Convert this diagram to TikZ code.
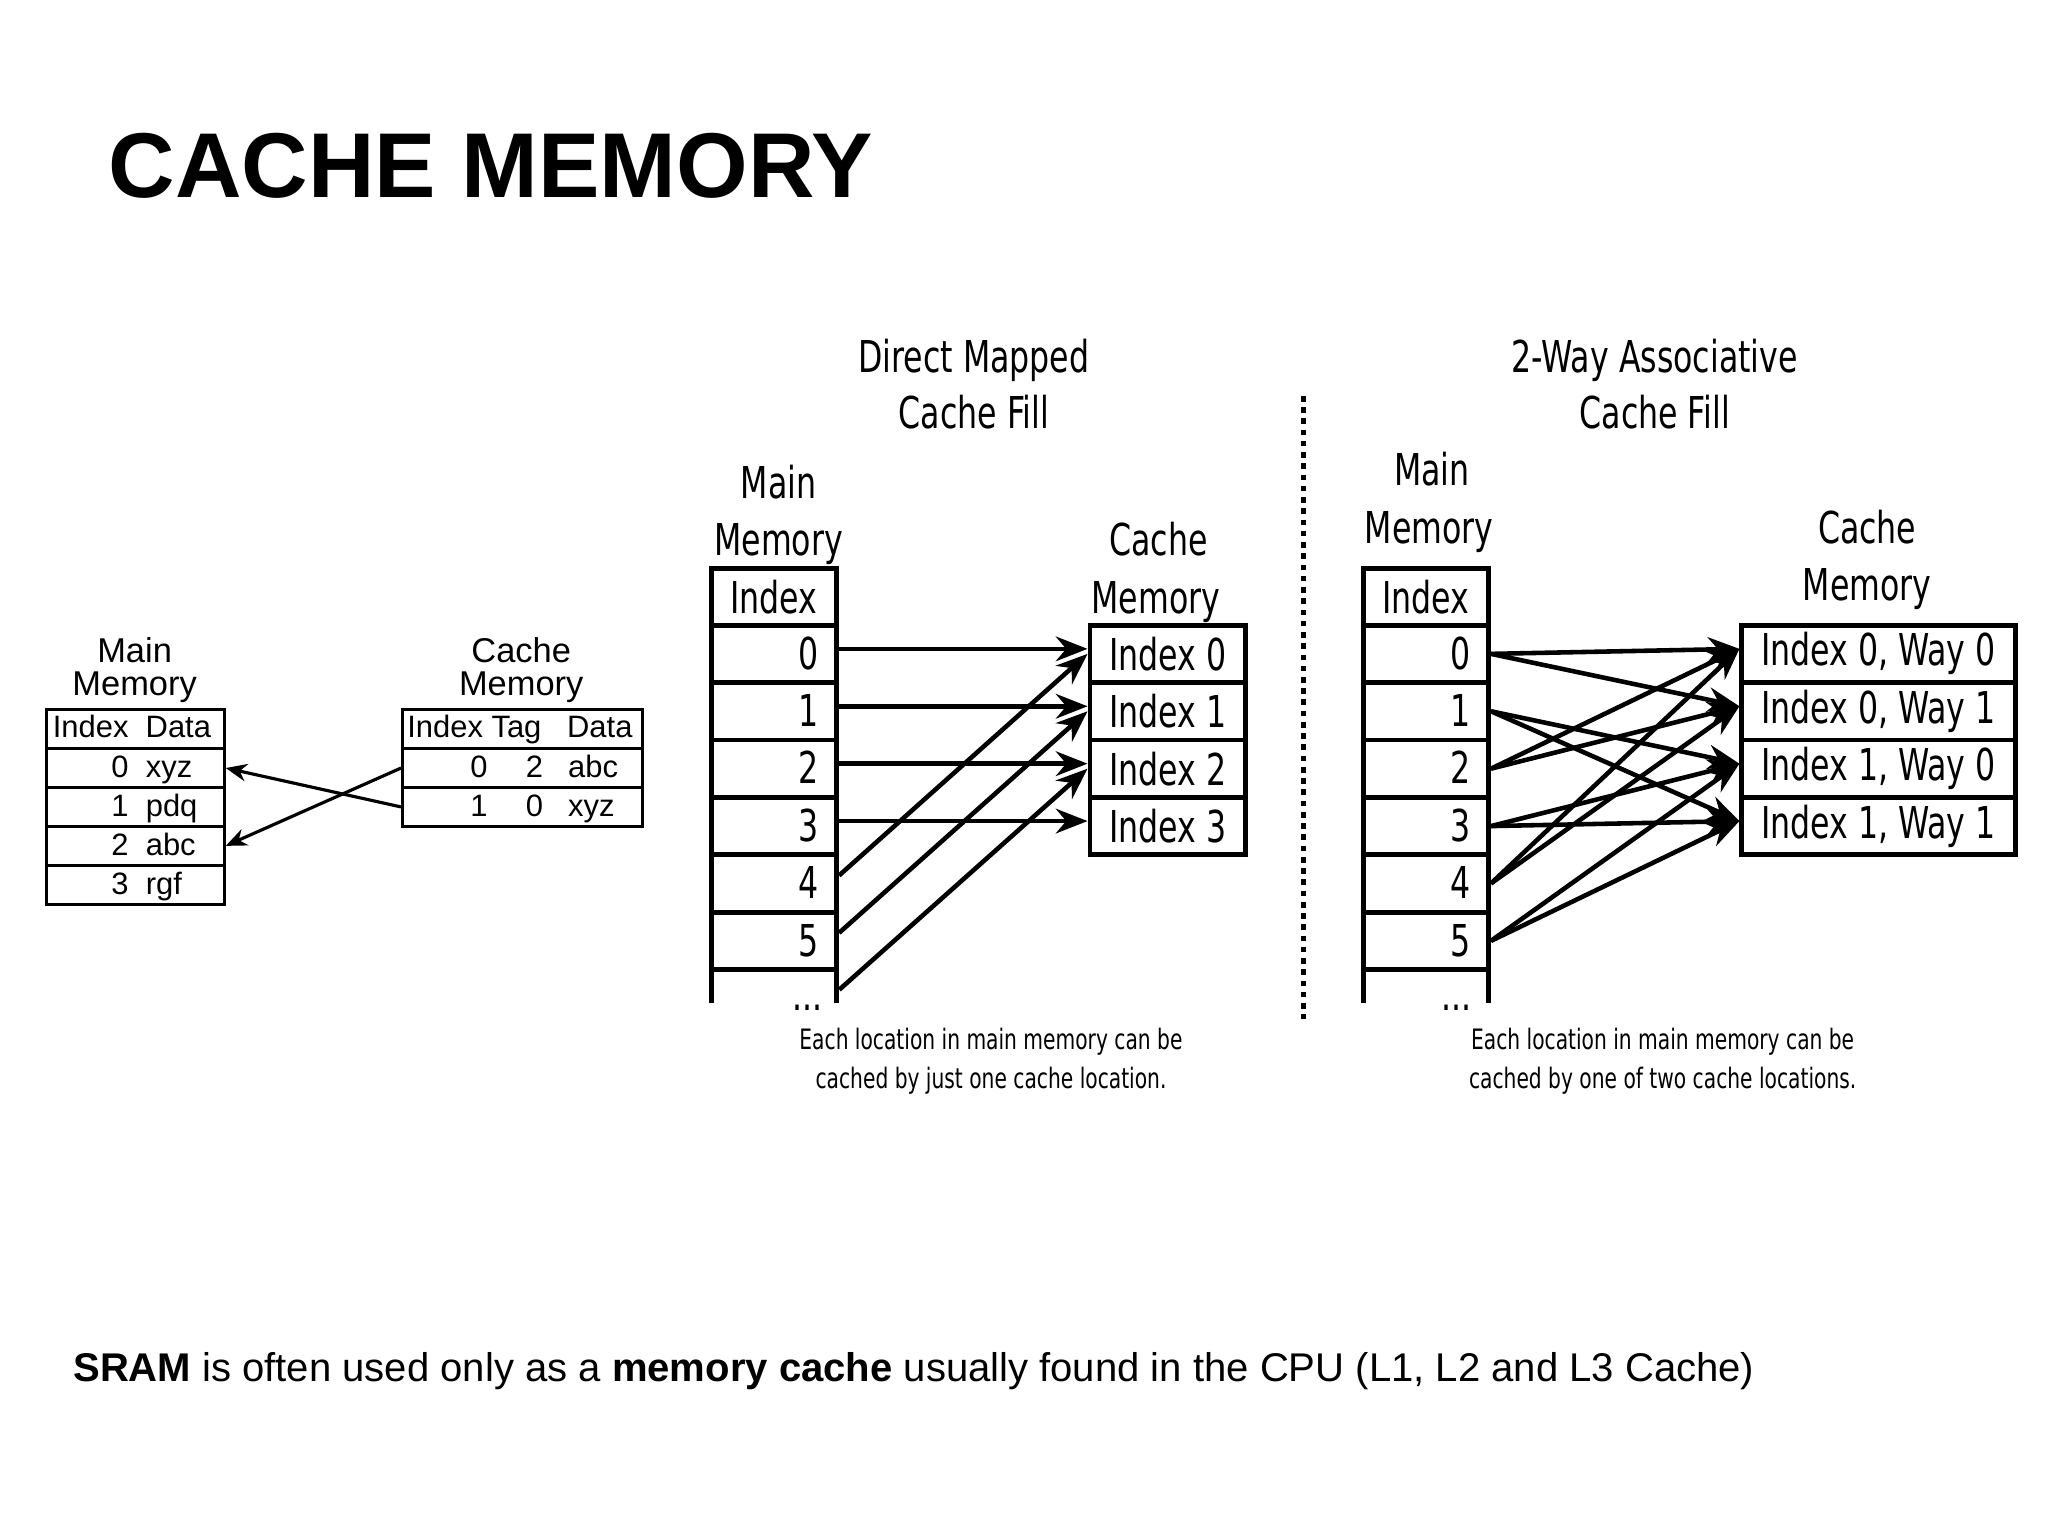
\documentclass[tikz,border=0pt]{standalone}
\usepackage{fontspec}
\setmainfont{Liberation Sans}
\newfontfamily\dv{DejaVu Sans Condensed}[FakeStretch=0.8]
\usetikzlibrary{arrows.meta}
\begin{document}
\begin{tikzpicture}[x=0.0132cm,y=-0.0132cm]
\tikzset{
  lc/.style={draw=black,line width=0.8pt,inner sep=0pt,minimum width={#1*0.0132cm},minimum height={29.5*0.0132cm}},
  rc/.style={draw=black,line width=1.4pt,inner sep=0pt,minimum width={#1*0.0132cm},minimum height={43.5*0.0132cm},font=\dv\fontsize{12.5}{14}\selectfont},
  lt/.style={font=\fontsize{8.8}{10}\selectfont,inner sep=0pt,anchor=base},
  ll/.style={font=\fontsize{9.8}{11}\selectfont,inner sep=0pt,anchor=base},
  rt/.style={font=\dv\fontsize{12.5}{14}\selectfont,inner sep=0pt,anchor=base},
  st/.style={font=\dv\fontsize{8}{9}\selectfont,inner sep=0pt,anchor=base},
  la/.style={-{Stealth[length=6pt,width=5pt]},line width=0.9pt},
  ra/.style={-{Stealth[length=9pt,width=7pt]},line width=1.3pt},
}
\useasboundingbox (0,0) rectangle (1552,1164);
% title
\node[anchor=base west,inner sep=0pt,font=\fontsize{26.2}{30}\selectfont\bfseries] (title) at (82,150) {CACHE MEMORY};

% ---- left simple example
\node[ll] (lmm1) at (102,502) {Main};
\node[ll] (lmm2) at (102,527) {Memory};
\node[lc=135] (lmh) at (102.5,552.5) {};
\node[lt] at (100,559) {Index\ \ Data};
\foreach \i/\d [count=\k from 0] in {0/xyz,1/pdq,2/abc,3/rgf}{
  \node[lc=135] (lm\k) at (102.5,{582+29.5*\k}) {};
  \node[lt,anchor=base east] at (98,{589+29.5*\k}) {\i};
  \node[lt,anchor=base west] at (110,{589+29.5*\k}) {\d};
}
\node[ll] (lcm1) at (395,502) {Cache};
\node[ll] (lcm2) at (395,527) {Memory};
\node[lc=182] (lch) at (396,552.5) {};
\node[lt] at (394,559) {Index Tag\ \ \ Data};
\foreach \i/\t/\d [count=\k from 0] in {0/2/abc,1/0/xyz}{
  \node[lc=182] (lc\k) at (396,{582+29.5*\k}) {};
  \node[lt] at (363,{589+29.5*\k}) {\i};
  \node[lt] at (405,{589+29.5*\k}) {\t};
  \node[lt,anchor=base west] at (430,{589+29.5*\k}) {\d};
}
\draw[la] (lc0.west) -- (lm2.east);
\draw[la] (lc1.west) -- (lm0.east);

% ---- direct mapped
\node[rt] (dt1) at (738,282) {Direct Mapped};
\node[rt] (dt2) at (738,325) {Cache Fill};
\node[rt] (dmm1) at (590,378) {Main};
\node[rt] (dmm2) at (590,421) {Memory};
\node[rc=95] (dmh) at (586.5,452.5) {Index};
\foreach \k in {0,...,5}{
  \node[rc=95] (dm\k) at (586.5,{495.5+43.5*\k}) {};
  \node[rt,anchor=base east] at (621,{507+43.5*\k}) {\k};
}
\draw[line width=1.4pt] (539,735) -- (539,760) (634,735) -- (634,760);
\coordinate (dm6) at (636,750);
\node[rt] at (612,766) {...};
\node[rt] (dcm1) at (878,421) {Cache};
\node[rt] (dcm2) at (876,465) {Memory};
\foreach \k in {0,...,3}{
  \node[rc=118] (dc\k) at (885,{495.5+43.5*\k}) {Index \k};
}
\foreach \k in {0,...,3}{
  \draw[ra] ([yshift=0.05cm]dm\k.east) -- ([yshift=0.05cm]dc\k.west);
}
\draw[ra] ([yshift=0.08cm]dm4.east) -- (dc0.west);
\draw[ra] ([yshift=0.08cm]dm5.east) -- (dc1.west);
\draw[ra] (dm6) -- (dc2.west);
\node[st] (dn1) at (751,795) {Each location in main memory can be};
\node[st] (dn2) at (751,825) {cached by just one cache location.};

% divider
\draw[line width=1.3pt,dash pattern=on 1.6pt off 1.6pt] (988,300) -- (988,772);

% ---- 2-way associative
\node[rt] (at1) at (1254,282) {2-Way Associative};
\node[rt] (at2) at (1254,325) {Cache Fill};
\node[rt] (amm1) at (1085,368) {Main};
\node[rt] (amm2) at (1083,412) {Memory};
\node[rc=95] (amh) at (1080.5,452.5) {Index};
\foreach \k in {0,...,5}{
  \node[rc=95] (am\k) at (1080.5,{495.5+43.5*\k}) {};
  \node[rt,anchor=base east] at (1115,{507+43.5*\k}) {\k};
}
\draw[line width=1.4pt] (1033,735) -- (1033,760) (1128,735) -- (1128,760);
\node[rt] at (1104,766) {...};
\node[rt] (acm1) at (1415,412) {Cache};
\node[rt] (acm2) at (1415,455) {Memory};
\foreach \s/\w [count=\k from 0] in {0/0,0/1,1/0,1/1}{
  \node[rc=207] (ac\k) at (1423.5,{495.5+43.5*\k}) {Index \s, Way \w};
}
\foreach \k/\a/\b in {0/0/1,1/2/3,2/0/1,3/2/3,4/0/1,5/2/3}{
  \draw[ra] (am\k.east) -- ([yshift=0.05cm]ac\a.west);
  \draw[ra] (am\k.east) -- ([yshift=0.05cm]ac\b.west);
}
\node[st] (an1) at (1260,795) {Each location in main memory can be};
\node[st] (an2) at (1260,825) {cached by one of two cache locations.};

% footer
\node[anchor=base west,inner sep=0pt,font=\fontsize{11.4}{13}\selectfont] (foot) at (55,1047)
  {\textbf{SRAM} is often used only as a \textbf{memory cache} usually found in the CPU (L1, L2 and L3 Cache)};
\end{tikzpicture}
\end{document}
